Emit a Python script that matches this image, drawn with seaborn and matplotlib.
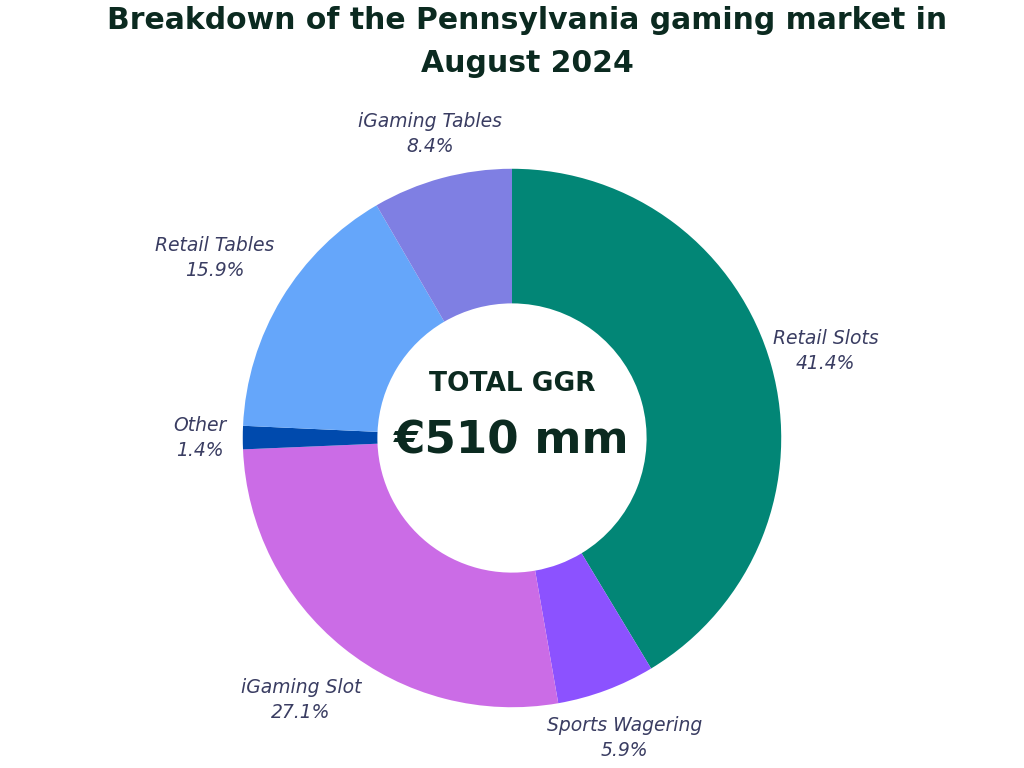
import numpy as np
import matplotlib.pyplot as plt
import seaborn as sns

sns.set_theme(style="white")
plt.rcParams['font.family'] = ['DejaVu Sans']

segments = ['Retail Slots', 'Sports Wagering', 'iGaming Slot', 'Other', 'Retail Tables', 'iGaming Tables']
shares = [41.4, 5.9, 27.1, 1.4, 15.9, 8.4]
colors = ['#028676', '#8c52ff', '#cb6ce6', '#004aad', '#65a6fa', '#7f7fe3']
total_text = '€510 mm'

fig = plt.figure(figsize=(10.24, 7.68), dpi=100)
# square axes of 700 px centred on the donut
ax = fig.add_axes([(512 - 350) / 1024, (768 - 438 - 350) / 768, 700 / 1024, 700 / 768])

wedges, _ = ax.pie(shares, colors=colors, startangle=90, counterclock=False,
                   wedgeprops=dict(width=0.5, linewidth=0))
ax.set_xlim(-1.3, 1.3)
ax.set_ylim(-1.3, 1.3)
ax.set_aspect('equal')
ax.axis('off')

# how far out each label sits (in pie radii)
label_dist = [1.21, 1.19, 1.25, 1.16, 1.29, 1.17]
label_color = '#3a3d62'
for w, name, val, r in zip(wedges, segments, shares, label_dist):
    mid = np.deg2rad((w.theta1 + w.theta2) / 2)
    ax.text(r * np.cos(mid), r * np.sin(mid), f'{name}\n{val:.1f}%',
            ha='center', va='center', fontsize=13.5, style='italic',
            color=label_color, family='DejaVu Sans', linespacing=1.4)

ax.text(0, 0.2, 'TOTAL GGR', ha='center', va='center', fontsize=19,
        fontweight='bold', color='#0b2a20')
ax.text(0, -0.01, total_text, ha='center', va='center', fontsize=32.5,
        fontweight='bold', color='#0b2a20')

fig.text(0.515, 0.992, 'Breakdown of the Pennsylvania gaming market in\nAugust 2024',
         ha='center', va='top', fontsize=21.5, fontweight='bold',
         color='#0b2a20', linespacing=1.6)

plt.savefig('out.png', dpi=100)
plt.close()
